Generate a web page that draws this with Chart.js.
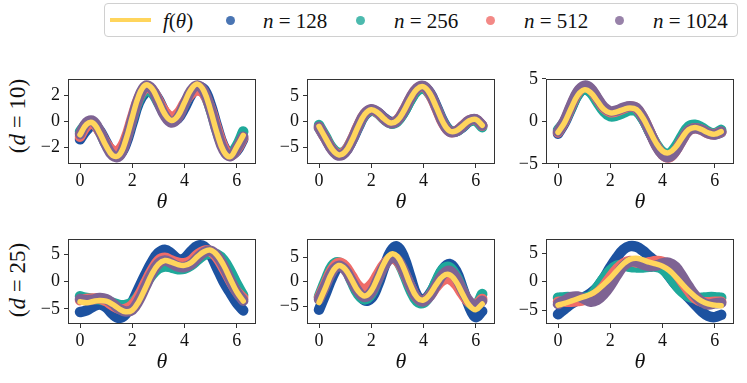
<!DOCTYPE html>
<html>
<head>
<meta charset="utf-8">
<script src="https://cdn.jsdelivr.net/npm/chart.js@4.4.0/dist/chart.umd.min.js"></script>
<style>
  body { margin: 0; background: #fff; width: 747px; height: 383px; position: relative; overflow: hidden; font-family: "Liberation Serif", serif; color: #111; }
  canvas { position: absolute; }
  .legend { position: absolute; left: 104px; top: 3px; width: 634px; height: 34px; border: 1px solid #d0d0d0; border-radius: 4px; box-sizing: border-box; }
  .lg { position: absolute; font-size: 21px; line-height: 20px; top: 7px; white-space: nowrap; }
  .dot { position: absolute; width: 9px; height: 9px; border-radius: 50%; top: 12px; }
  .ylab { position: absolute; font-size: 23px; white-space: nowrap; transform: translate(-50%, -50%) rotate(-90deg); }
</style>
</head>
<body>
<div class="legend">
  <div style="position:absolute;left:5px;top:14px;width:41px;height:4px;background:#ffd55c"></div>
  <span class="lg" style="left:58px"><i>f</i>(<i>θ</i>)</span>
  <div class="dot" style="left:121px;background:rgba(29,82,160,0.8)"></div>
  <span class="lg" style="left:158px"><i>n</i> = 128</span>
  <div class="dot" style="left:251px;background:rgba(31,169,154,0.8)"></div>
  <span class="lg" style="left:289px"><i>n</i> = 256</span>
  <div class="dot" style="left:381px;background:rgba(240,108,104,0.8)"></div>
  <span class="lg" style="left:419px"><i>n</i> = 512</span>
  <div class="dot" style="left:510px;background:rgba(126,99,147,0.8)"></div>
  <span class="lg" style="left:548px"><i>n</i> = 1024</span>
</div>
<div class="ylab" style="left:18px;top:116px">(<i>d</i> = 10)</div>
<div class="ylab" style="left:18px;top:280px">(<i>d</i> = 25)</div>

<canvas id="c1" width="246" height="152" style="left:18px;top:64px"></canvas>
<canvas id="c2" width="246" height="152" style="left:257px;top:64px"></canvas>
<canvas id="c3" width="246" height="152" style="left:496px;top:64px"></canvas>
<canvas id="c4" width="246" height="152" style="left:18px;top:224px"></canvas>
<canvas id="c5" width="246" height="152" style="left:257px;top:224px"></canvas>
<canvas id="c6" width="246" height="152" style="left:496px;top:224px"></canvas>

<script>
const thetas = [0, 0.25, 0.5, 0.75, 1, 1.25, 1.5, 1.75, 2, 2.25, 2.5, 2.75, 3, 3.25, 3.5, 3.75, 4, 4.25, 4.5, 4.75, 5, 5.25, 5.5, 5.75, 6, 6.25];
const xTicks = [0, 2, 4, 6];

// d = 10
const p1_f     = [-1.05, -0.25, -0.15, -0.90, -1.91, -2.64, -2.61, -1.49, 0.29, 1.96, 2.78, 2.53, 1.58, 0.54, 0.05, 0.41, 1.41, 2.43, 2.85, 2.30, 0.83, -0.94, -2.31, -2.74, -2.0, -1.1];
const p1_n1024 = [-1.0, -0.1, 0.0, -0.75, -1.85, -2.65, -2.7, -1.6, 0.15, 1.8, 2.7, 2.5, 1.45, 0.4, -0.1, 0.25, 1.3, 2.35, 2.75, 2.3, 0.9, -0.85, -2.25, -2.7, -2.1, -1.2];
const p1_n512  = [-1.2, -0.4, -0.2, -0.8, -1.7, -2.25, -2.2, -1.3, 0.3, 1.8, 2.55, 2.45, 1.6, 0.75, 0.35, 0.6, 1.4, 2.1, 2.35, 2.1, 1.0, -0.6, -2.0, -2.65, -2.2, -1.3];
const p1_n256  = [-0.8, -0.2, -0.1, -0.8, -1.8, -2.5, -2.5, -1.5, 0.1, 1.6, 2.3, 2.2, 1.4, 0.5, 0.0, 0.35, 1.3, 2.2, 2.55, 2.15, 0.9, -0.8, -2.1, -2.5, -1.9, -0.8];
const p1_n128  = [-1.4, -0.7, -0.3, -0.7, -1.6, -2.4, -2.6, -1.8, -0.2, 1.4, 2.2, 2.35, 1.7, 0.7, 0.1, 0.2, 1.0, 2.0, 2.6, 2.45, 1.3, -0.4, -1.9, -2.55, -2.3, -1.4];

const p2_f     = [-0.96, -3.21, -5.38, -6.47, -5.91, -3.78, -0.96, 1.39, 2.3, 1.72, 0.5, -0.28, 0.22, 2.05, 4.45, 6.28, 6.76, 5.39, 2.7, -0.16, -1.84, -1.81, -0.86, 0.16, 0.41, -0.73];
const p2_n1024 = [-1.0, -3.3, -5.5, -6.6, -6.0, -3.8, -0.9, 1.5, 2.4, 1.8, 0.5, -0.35, 0.2, 2.1, 4.6, 6.45, 6.9, 5.5, 2.7, -0.25, -1.95, -1.9, -0.9, 0.2, 0.45, -0.75];
const p2_n512  = [-1.1, -3.3, -5.4, -6.4, -5.8, -3.6, -0.8, 1.5, 2.3, 1.7, 0.5, -0.3, 0.3, 2.2, 4.6, 6.4, 6.8, 5.3, 2.5, -0.35, -1.95, -1.85, -0.85, 0.2, 0.4, -0.8];
const p2_n256  = [-0.7, -2.9, -5.1, -6.1, -5.7, -3.7, -1.0, 1.3, 2.2, 1.6, 0.4, -0.4, 0.0, 1.8, 4.1, 5.9, 6.4, 5.2, 2.7, -0.1, -1.8, -1.9, -1.0, 0.0, 0.1, -1.1];
const p2_n128  = [-1.2, -3.3, -5.3, -6.3, -5.9, -3.9, -1.2, 1.2, 2.1, 1.8, 0.7, -0.05, 0.2, 1.8, 4.2, 6.1, 6.7, 5.6, 3.0, 0.1, -1.7, -1.9, -1.1, 0.0, 0.3, -0.8];

const p3_f     = [-1.29, -0.14, 1.52, 3.05, 3.71, 3.39, 2.42, 1.42, 1.0, 1.12, 1.39, 1.59, 1.4, 0.43, -1.03, -2.5, -3.49, -3.69, -3.05, -1.93, -0.98, -0.71, -0.96, -1.34, -1.5, -1.2];
const p3_n1024 = [-1.2, 0.1, 1.9, 3.5, 4.2, 3.9, 2.8, 1.7, 1.2, 1.3, 1.6, 1.8, 1.6, 0.5, -1.1, -2.8, -3.9, -4.2, -3.5, -2.2, -1.1, -0.8, -1.0, -1.4, -1.55, -1.2];
const p3_n512  = [-1.3, 0.0, 1.8, 3.4, 4.1, 3.8, 2.7, 1.6, 1.1, 1.2, 1.5, 1.75, 1.55, 0.5, -1.1, -2.75, -3.9, -4.25, -3.5, -2.2, -1.1, -0.8, -1.0, -1.4, -1.5, -1.25];
const p3_n256  = [-1.0, 0.0, 1.6, 3.1, 3.8, 3.4, 2.3, 1.2, 0.6, 0.7, 1.0, 1.3, 1.2, 0.3, -1.2, -2.6, -3.6, -3.8, -3.0, -1.7, -0.6, -0.4, -0.7, -1.2, -1.4, -1.0];
const p3_n128  = [-1.45, -0.2, 1.5, 3.1, 3.8, 3.5, 2.5, 1.4, 0.9, 1.0, 1.3, 1.5, 1.3, 0.3, -1.2, -2.7, -3.7, -3.9, -3.2, -2.0, -1.0, -0.7, -0.9, -1.3, -1.5, -1.3];

// d = 25
const p4_f     = [-3.7, -3.9, -3.65, -3.45, -3.6, -4.2, -5.0, -5.55, -5.26, -3.66, -1.21, 1.37, 3.18, 3.9, 3.6, 3.15, 3.0, 3.5, 4.6, 5.5, 5.8, 4.89, 3.03, 0.55, -1.85, -3.56];
const p4_n1024 = [-3.2, -3.4, -3.3, -3.0, -3.2, -4.0, -5.0, -5.5, -5.2, -3.5, -1.0, 1.5, 3.3, 3.9, 3.4, 2.8, 2.7, 3.2, 4.4, 5.4, 5.7, 4.8, 2.9, 0.4, -1.9, -3.5];
const p4_n512  = [-3.4, -3.2, -3.1, -3.1, -3.6, -4.4, -5.0, -5.0, -4.3, -2.6, -0.2, 2.1, 3.9, 4.4, 3.9, 3.5, 3.4, 3.9, 5.0, 5.7, 5.6, 4.4, 2.4, 0.2, -1.8, -3.0];
const p4_n256  = [-2.7, -3.0, -3.2, -3.3, -3.5, -3.9, -4.3, -4.3, -3.8, -2.5, -0.6, 1.2, 2.4, 2.8, 2.6, 2.3, 2.4, 3.0, 4.0, 4.9, 5.2, 5.0, 4.0, 2.0, -0.4, -2.5];
const p4_n128  = [-5.6, -5.3, -4.6, -4.2, -4.7, -6.0, -6.7, -6.0, -3.8, -1.2, 1.3, 3.6, 5.3, 5.9, 5.2, 4.2, 4.3, 5.6, 6.6, 6.5, 5.0, 2.5, 0.0, -2.0, -3.9, -5.3];

const p5_f     = [-4.25, -1.2, 1.85, 3.28, 2.56, 0.4, -1.89, -2.9, -1.87, 0.84, 3.83, 5.58, 5.15, 2.7, -0.66, -3.18, -3.73, -2.54, -0.52, 1.12, 1.4, -0.03, -2.52, -4.79, -5.7, -4.53];
const p5_n1024 = [-3.6, -0.8, 2.0, 3.2, 2.4, 0.2, -2.0, -3.1, -2.2, 0.4, 3.2, 4.8, 4.5, 2.2, -0.9, -3.3, -4.0, -2.9, -0.6, 1.5, 2.2, 0.8, -1.8, -4.0, -4.8, -3.9];
const p5_n512  = [-3.3, -0.4, 2.5, 3.8, 3.2, 1.2, -0.8, -1.5, -0.6, 1.5, 3.6, 4.6, 4.2, 2.0, -0.9, -3.3, -3.9, -2.8, -1.0, 0.3, 0.5, -0.6, -2.6, -4.2, -4.6, -3.5];
const p5_n256  = [-3.0, 0.3, 3.2, 3.9, 2.8, 0.0, -2.6, -3.6, -2.6, 0.4, 3.4, 4.8, 4.2, 1.6, -1.7, -4.0, -4.3, -2.7, 0.2, 2.6, 2.9, 1.2, -1.7, -4.3, -4.8, -2.5];
const p5_n128  = [-5.7, -2.5, 0.8, 3.0, 2.8, 0.8, -2.0, -3.8, -3.4, -0.8, 3.0, 6.2, 7.1, 5.0, 1.0, -2.8, -3.6, -2.4, 0.0, 2.6, 3.6, 2.2, -1.3, -5.0, -7.2, -6.0];

const p6_f     = [-4.1, -3.8, -3.4, -3.0, -2.6, -2.2, -1.5, -0.5, 0.6, 1.9, 3.1, 3.9, 4.1, 3.8, 3.4, 3.1, 2.7, 2.0, 0.9, -0.4, -1.6, -2.6, -3.4, -3.9, -4.1, -4.2];
const p6_n1024 = [-3.9, -3.3, -2.7, -2.6, -3.0, -3.5, -3.2, -2.2, -0.7, 1.1, 2.7, 3.5, 3.5, 3.0, 2.7, 2.8, 3.2, 3.3, 2.6, 1.0, -0.8, -2.4, -3.5, -4.0, -3.8, -3.7];
const p6_n512  = [-3.5, -3.5, -3.5, -3.4, -3.2, -2.8, -2.0, -0.8, 0.8, 2.2, 3.2, 3.6, 3.4, 3.2, 3.4, 3.6, 3.5, 2.9, 1.6, 0.0, -1.6, -2.9, -3.5, -3.6, -3.5, -3.5];
const p6_n256  = [-2.8, -2.7, -2.7, -2.8, -2.8, -2.5, -1.0, 0.6, 2.0, 2.8, 2.9, 2.6, 2.5, 2.5, 2.6, 2.6, 2.2, 1.0, -0.5, -1.8, -2.6, -2.9, -2.8, -2.7, -2.7, -2.8];
const p6_n128  = [-5.7, -4.8, -3.9, -3.2, -2.7, -2.0, -1.0, 0.6, 2.5, 4.2, 5.6, 6.2, 6.1, 5.4, 4.4, 3.5, 2.5, 1.0, -0.5, -1.6, -2.8, -4.0, -5.2, -6.0, -6.2, -5.8];

const colors = { f: '#ffd55c', n1024: '#7e6393', n512: '#f06c68', n256: '#1fa99a', n128: '#1d52a0' };

const frame = {
    id: 'frame',
    afterDraw(chart) {
        const { ctx, chartArea: a } = chart;
        ctx.save();
        ctx.strokeStyle = '#333';
        ctx.lineWidth = 1;
        ctx.strokeRect(Math.round(a.left) + 0.5, Math.round(a.top) + 0.5, Math.round(a.right - a.left) - 1, Math.round(a.bottom - a.top) - 1);
        ctx.restore();
    }
};

const fmt = v => (v < 0 ? '\u2212' + Math.abs(v) : String(v));
const pts = ys => ys.map((y, i) => ({ x: thetas[i], y: y }));

function band(values, color, width) {
    return {
        data: pts(values),
        borderColor: color,
        borderWidth: width,
        borderCapStyle: 'round',
        borderJoinStyle: 'round',
        tension: 0.4,
        pointRadius: 0,
        fill: false
    };
}

function makePanel(id, f, n1024, n512, n256, n128, yMin, yMax, yTicks) {
    new Chart(document.getElementById(id), {
        type: 'line',
        data: {
            // first dataset is drawn last (on top)
            datasets: [
                band(f, colors.f, 5.5),
                band(n1024, colors.n1024, 10.5),
                band(n512, colors.n512, 10.5),
                band(n256, colors.n256, 10.5),
                band(n128, colors.n128, 10.5)
            ]
        },
        options: {
            responsive: false,
            animation: false,
            devicePixelRatio: 1,
            layout: { padding: { top: 6, right: 8, left: 0, bottom: 0 } },
            plugins: { legend: { display: false }, tooltip: { enabled: false } },
            scales: {
                x: {
                    type: 'linear',
                    min: -0.46,
                    max: 6.74,
                    afterBuildTicks: s => { s.ticks = xTicks.map(v => ({ value: v })); },
                    afterFit: s => { s.height = 52; },
                    grid: { drawOnChartArea: false, drawTicks: true, tickLength: 4, color: '#333' },
                    border: { display: false },
                    ticks: { color: '#111', padding: 2, maxRotation: 0, font: { family: 'Liberation Serif', size: 18 }, callback: fmt },
                    title: { display: true, text: 'θ', color: '#111', padding: { top: 0, bottom: 1 }, font: { family: 'Liberation Serif', size: 22, style: 'italic' } }
                },
                y: {
                    min: yMin,
                    max: yMax,
                    afterBuildTicks: s => { s.ticks = yTicks.map(v => ({ value: v })); },
                    afterFit: s => { s.width = 50; },
                    grid: { drawOnChartArea: false, drawTicks: true, tickLength: 4, color: '#333' },
                    border: { display: false },
                    ticks: { color: '#111', padding: 4, font: { family: 'Liberation Serif', size: 18 }, callback: fmt }
                }
            }
        },
        plugins: [frame]
    });
}

makePanel('c1', p1_f, p1_n1024, p1_n512, p1_n256, p1_n128, -3.3, 3.26, [-2, 0, 2]);
makePanel('c2', p2_f, p2_n1024, p2_n512, p2_n256, p2_n128, -8.25, 8.3, [-5, 0, 5]);
makePanel('c3', p3_f, p3_n1024, p3_n512, p3_n256, p3_n128, -5.02, 5.02, [-5, 0, 5]);
makePanel('c4', p4_f, p4_n1024, p4_n512, p4_n256, p4_n128, -7.8, 7.9, [-5, 0, 5]);
makePanel('c5', p5_f, p5_n1024, p5_n512, p5_n256, p5_n128, -8.6, 8.7, [-5, 0, 5]);
makePanel('c6', p6_f, p6_n1024, p6_n512, p6_n256, p6_n128, -7.4, 7.5, [-5, 0, 5]);
</script>
</body>
</html>
